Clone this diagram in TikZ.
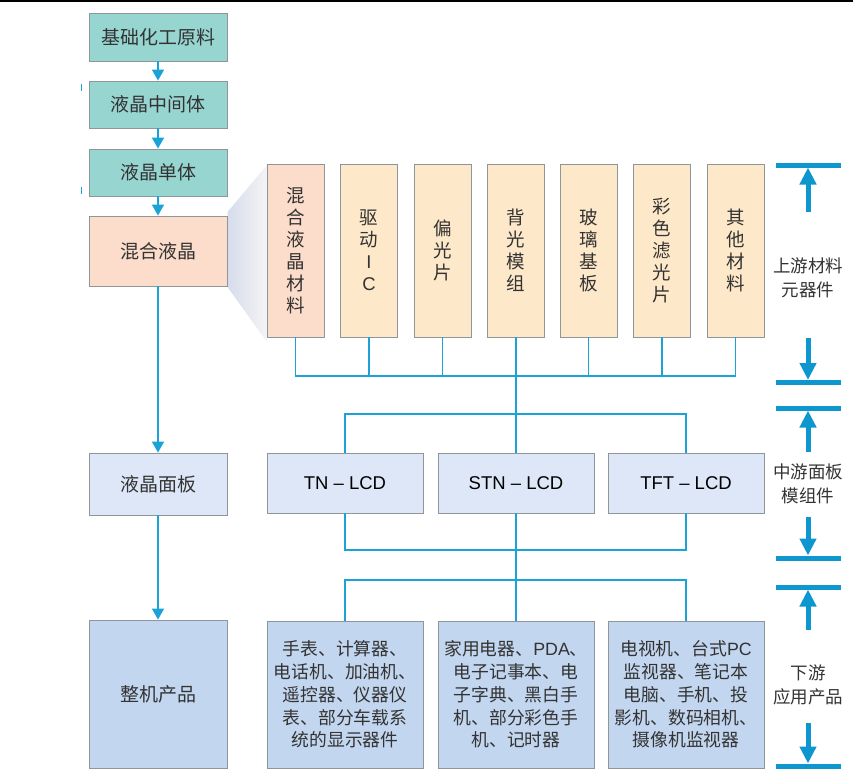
\documentclass[tikz,border=0pt]{standalone}
\usepackage{fontspec}
\setmainfont{Noto Sans CJK SC}
\newfontfamily\lat{Liberation Sans}
\usetikzlibrary{arrows.meta}
\definecolor{tealfill}{HTML}{97D5D1}
\definecolor{peach}{HTML}{FCDCCA}
\definecolor{cream}{HTML}{FDE8C9}
\definecolor{paleblue}{HTML}{DDE7F8}
\definecolor{midblue}{HTML}{C3D6EF}
\definecolor{boxgray}{HTML}{8E969A}
\definecolor{linec}{HTML}{1BA2D6}
\definecolor{arrc}{HTML}{0E97CF}
\definecolor{txt}{HTML}{333333}
\definecolor{shadeL}{HTML}{D6DCEC}
\definecolor{shadeR}{HTML}{F4F4F4}
\begin{document}
\begin{tikzpicture}[x=1pt,y=-1pt,
  box/.style={draw=boxgray, line width=0.9pt, inner sep=0pt, align=center, text=txt},
  leftbox/.style={box, minimum width=138pt, font=\fontsize{19}{22}\selectfont},
  upbox/.style={box, fill=cream, minimum width=57pt, minimum height=173pt, font=\fontsize{18.5}{22}\selectfont},
  lcdbox/.style={box, fill=paleblue, minimum width=156pt, minimum height=60pt, font=\lat\fontsize{18.5}{22}\selectfont, text=black},
  appbox/.style={box, fill=midblue, minimum width=156pt, minimum height=147pt, font=\fontsize{17.8}{22.8}\selectfont},
  flow/.style={draw=linec, line width=1.6pt, -{Triangle[width=12pt,length=11pt]}},
  bus/.style={draw=linec, line width=1.8pt},
  bar/.style={draw=arrc, line width=5pt},
  bigarr/.style={draw=arrc, line width=5pt, -{Triangle[width=16pt,length=17pt]}},
  side/.style={text=txt, align=center, font=\fontsize{17.5}{24}\selectfont}]
\useasboundingbox (0,0) rectangle (853,772);
% top rule
\draw[line width=1.5pt, black] (0,1) -- (853,1);
% stray marks
\draw[linec, line width=1pt] (81,84) -- (81,91);
\draw[linec, line width=1pt] (81,187) -- (81,194);
% magnifier shading
\shade[left color=shadeL, right color=shadeR] (227.5,212) -- (267,165) -- (267,342) -- (227.5,287) -- cycle;
% left column
\node[leftbox, fill=tealfill, minimum height=48pt] (l1) at (158,37) {基础化工原料};
\node[leftbox, fill=tealfill, minimum height=47pt] (l2) at (158,104.5) {液晶中间体};
\node[leftbox, fill=tealfill, minimum height=47pt] (l3) at (158,172.5) {液晶单体};
\node[leftbox, fill=peach, minimum height=70pt] (l4) at (158,251) {混合液晶};
\node[leftbox, fill=paleblue, minimum height=62pt] (l5) at (158,484) {液晶面板};
\node[leftbox, fill=midblue, minimum height=148pt] (l6) at (158,694) {整机产品};
\draw[flow] (l1) -- (l2);
\draw[flow] (l2) -- (l3);
\draw[flow] (l3) -- (l4);
\draw[flow] (l4) -- (l5);
\draw[flow] (l5) -- (l6);
% upstream boxes
\node[upbox, fill=peach] (u1) at (295.5,250.5) {混\\合\\液\\晶\\材\\料};
\node[upbox] (u2) at (369,250.5) {驱\\动\\{\lat I}\\{\lat C}};
\node[upbox] (u3) at (442.5,250.5) {偏\\光\\片};
\node[upbox] (u4) at (516,250.5) {背\\光\\模\\组};
\node[upbox] (u5) at (588.5,250.5) {玻\\璃\\基\\板};
\node[upbox] (u6) at (662,250.5) {彩\\色\\滤\\光\\片};
\node[upbox] (u7) at (735.5,250.5) {其\\他\\材\\料};
% middle boxes
\node[lcdbox] (m1) at (345,483) {TN – LCD};
\node[lcdbox] (m2) at (516,483) {STN – LCD};
\node[lcdbox] (m3) at (686,483) {TFT – LCD};
% bottom boxes
\node[appbox] (b1) at (345,694.5) {手表、计算器、\\电话机、加油机、\\遥控器、仪器仪\\表、部分车载系\\统的显示器件};
\node[appbox] (b2) at (516,694.5) {家用电器、{\lat PDA}、\\电子记事本、电\\子字典、黑白手\\机、部分彩色手\\机、记时器};
\node[appbox] (b3) at (686,694.5) {电视机、台式{\lat PC}\\监视器、笔记本\\电脑、手机、投\\影机、数码相机、\\摄像机监视器};
% bus lines
\coordinate (ba) at (516,376);
\coordinate (bb) at (516,414);
\coordinate (bc) at (516,550);
\coordinate (bd) at (516,580);
\foreach \u in {u1,u2,u3,u5,u6,u7} {\draw[bus] (\u.south) |- (ba);}
\draw[bus] (u4.south) -- (ba) -- (bb);
\draw[bus] (bb) -| (m1.north);
\draw[bus] (bb) -| (m3.north);
\draw[bus] (bb) -- (m2.north);
\draw[bus] (m1.south) |- (bc);
\draw[bus] (m3.south) |- (bc);
\draw[bus] (m2.south) -- (bc) -- (bd);
\draw[bus] (bd) -| (b1.north);
\draw[bus] (bd) -| (b3.north);
\draw[bus] (bd) -- (b2.north);
% right stage markers
\coordinate (t1) at (808,165);
\coordinate (t2) at (808,382.5);
\coordinate (t3) at (808,408);
\coordinate (t4) at (808,558);
\coordinate (t5) at (808,587);
\coordinate (t6) at (808,766);
\foreach \t in {t1,t2,t3,t4,t5,t6} {\draw[bar] ([xshift=-32.5pt]\t) -- ([xshift=32.5pt]\t);}
\coordinate (s1) at (808,212);
\coordinate (s2) at (808,338);
\coordinate (s3) at (808,452);
\coordinate (s4) at (808,517);
\coordinate (s5) at (808,630);
\coordinate (s6) at (808,723);
\draw[bigarr] (s1) -- ([yshift=-2.5pt]t1);
\draw[bigarr] (s2) -- ([yshift=2.5pt]t2);
\draw[bigarr] (s3) -- ([yshift=-2.5pt]t3);
\draw[bigarr] (s4) -- ([yshift=2.5pt]t4);
\draw[bigarr] (s5) -- ([yshift=-2.5pt]t5);
\draw[bigarr] (s6) -- ([yshift=2.5pt]t6);
\node[side] (r1) at (808,278) {上游材料\\元器件};
\node[side] (r2) at (808,484) {中游面板\\模组件};
\node[side] (r3) at (808,685) {下游\\应用产品};
\end{tikzpicture}
\end{document}
